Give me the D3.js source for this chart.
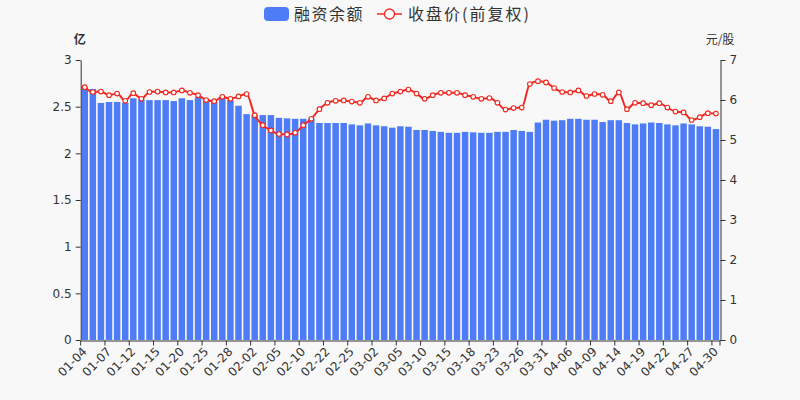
<!DOCTYPE html>
<html><head><meta charset="utf-8">
<script src="https://cdn.jsdelivr.net/npm/d3@7/dist/d3.min.js"></script>
<style>
html,body{margin:0;padding:0;background:#f8f8f8;}
svg{display:block;}
</style></head>
<body><svg id="c" width="800" height="400"></svg>
<script>
const dates = ["01-04","01-05","01-06","01-07","01-08","01-11","01-12","01-13","01-14","01-15","01-18","01-19","01-20","01-21","01-22","01-25","01-26","01-27","01-28","01-29",
"02-01","02-02","02-03","02-04","02-05","02-08","02-09","02-10","02-18","02-19","02-22","02-23","02-24","02-25","02-26",
"03-01","03-02","03-03","03-04","03-05","03-08","03-09","03-10","03-11","03-12","03-15","03-16","03-17","03-18","03-19","03-22","03-23","03-24","03-25","03-26","03-29","03-30","03-31",
"04-01","04-02","04-06","04-07","04-08","04-09","04-12","04-13","04-14","04-15","04-16","04-19","04-20","04-21","04-22","04-23","04-26","04-27","04-28","04-29","04-30"];
const marginBalance = [2.71,2.69,2.54,2.55,2.55,2.54,2.59,2.58,2.57,2.57,2.57,2.56,2.59,2.57,2.60,2.58,2.55,2.59,2.57,2.51,
2.42,2.41,2.41,2.41,2.38,2.375,2.37,2.37,2.37,2.325,2.325,2.325,2.325,2.31,2.30,2.32,2.30,2.29,2.275,2.29,
2.285,2.25,2.25,2.24,2.23,2.22,2.22,2.23,2.225,2.22,2.22,2.23,2.23,2.25,2.24,2.23,2.33,2.36,2.35,2.355,
2.37,2.37,2.36,2.36,2.335,2.355,2.355,2.325,2.31,2.32,2.33,2.325,2.31,2.30,2.32,2.31,2.29,2.285,2.26];
const closePrice = [6.32,6.20,6.21,6.12,6.16,5.98,6.17,6.03,6.20,6.21,6.19,6.19,6.24,6.18,6.12,6.00,5.97,6.08,6.03,6.09,
6.15,5.62,5.37,5.24,5.15,5.14,5.18,5.37,5.53,5.77,5.93,5.98,5.99,5.96,5.93,6.08,5.99,6.04,6.16,6.21,
6.26,6.16,6.03,6.12,6.18,6.18,6.18,6.12,6.08,6.03,6.05,5.93,5.76,5.80,5.81,6.40,6.47,6.44,6.30,6.20,
6.19,6.24,6.10,6.15,6.13,5.97,6.19,5.77,5.93,5.92,5.87,5.92,5.81,5.71,5.69,5.50,5.57,5.67,5.66];
const leftTicks = [0,0.5,1,1.5,2,2.5,3];
const rightTicks = [0,1,2,3,4,5,6,7];
const seriesNames = ["融资余额","收盘价(前复权)"];
const leftUnit = "亿", rightUnit = "元/股";

const BAR = "#4e7cf7", LINE = "#f02a22", TXT = "#333", AX = "#333";
const L = 80.7, R = 720, T = 60, B = 340;
const svg = d3.select("#c");
svg.append("rect").attr("width",800).attr("height",400).attr("fill","#f8f8f8");

const xCat = d3.scaleBand().domain(dates).range([L,R]).padding(0);
const xBar = d3.scaleBand().domain(dates).range([L,R]).paddingInner(0.2).paddingOuter(0.1);
const yL = d3.scaleLinear().domain([0,3]).range([B,T]);
const yR = d3.scaleLinear().domain([0,7]).range([B,T]);
const step = xCat.step();

// bars
svg.append("g").selectAll("rect").data(marginBalance).join("rect")
  .attr("x",(d,i)=>xBar(dates[i])).attr("width",xBar.bandwidth())
  .attr("y",d=>yL(d)).attr("height",d=>B-yL(d)).attr("fill",BAR);

// line
const line = d3.line().x((d,i)=>xCat(dates[i])+step/2).y(d=>yR(d)).curve(d3.curveMonotoneX);
svg.append("path").datum(closePrice).attr("d",line).attr("fill","none")
  .attr("stroke",LINE).attr("stroke-width",2);
svg.append("g").selectAll("circle").data(closePrice).join("circle")
  .attr("cx",(d,i)=>xCat(dates[i])+step/2).attr("cy",d=>yR(d)).attr("r",2.3)
  .attr("fill","#fff").attr("stroke",LINE).attr("stroke-width",1.1);

// x axis
const tickIdx = dates.map((d,i)=>i).filter(i=>i%3===0);
const xAxis = d3.axisBottom(xCat).tickValues(tickIdx.map(i=>dates[i])).tickSize(5).tickSizeOuter(0);
const gx = svg.append("g").attr("transform",`translate(0,${B+0.5})`).call(xAxis);
gx.select(".domain").attr("stroke",AX);
gx.selectAll(".tick line").attr("stroke",AX).attr("transform",`translate(${-step/2},0)`);
gx.selectAll(".tick text").attr("fill",TXT).style("font-family","DejaVu Sans").style("font-size","12px")
  .attr("text-anchor","end").attr("dy","0.35em").attr("y",0)
  .attr("transform","translate(0,9) rotate(-45)");
gx.append("line").attr("x1",R).attr("x2",R).attr("y1",0).attr("y2",5).attr("stroke",AX);

// left axis
const gl = svg.append("g").attr("transform",`translate(${L},0)`)
  .call(d3.axisLeft(yL).tickValues(leftTicks).tickSize(5).tickSizeOuter(0).tickPadding(4).tickFormat(d3.format("~g")));
gl.select(".domain").attr("stroke",AX);
gl.selectAll(".tick line").attr("stroke",AX);
gl.selectAll(".tick text").attr("fill",TXT).style("font-family","DejaVu Sans").style("font-size","12px");

// right axis
const gr = svg.append("g").attr("transform",`translate(${R+0.5},0)`)
  .call(d3.axisRight(yR).tickValues(rightTicks).tickSize(5).tickSizeOuter(0).tickPadding(4).tickFormat(d3.format("~g")));
gr.select(".domain").attr("stroke",AX);
gr.selectAll(".tick line").attr("stroke",AX);
gr.selectAll(".tick text").attr("fill",TXT).style("font-family","DejaVu Sans").style("font-size","12px");

// axis names
svg.append("text").attr("x",L-1).attr("y",44).attr("text-anchor","middle")
  .style("font-family","Noto Sans CJK SC").style("font-size","12px").style("font-weight","bold")
  .attr("fill",TXT).text(leftUnit);
svg.append("text").attr("x",R).attr("y",44).attr("text-anchor","middle")
  .style("font-family","Noto Sans CJK SC").style("font-size","12px")
  .attr("fill",TXT).text(rightUnit);

// legend
const lg = svg.append("g");
lg.append("rect").attr("x",264).attr("y",7).attr("width",25).attr("height",14).attr("rx",4).attr("fill",BAR);
lg.append("text").attr("x",294).attr("y",20).style("font-family","Noto Sans CJK SC").style("font-size","16px")
  .style("letter-spacing","1.5px").attr("fill",TXT).text(seriesNames[0]);
lg.append("line").attr("x1",377).attr("x2",402).attr("y1",14).attr("y2",14).attr("stroke",LINE).attr("stroke-width",1.5);
lg.append("circle").attr("cx",389.5).attr("cy",14).attr("r",5).attr("fill","#fff").attr("stroke",LINE).attr("stroke-width",1.3);
lg.append("text").attr("x",408).attr("y",20).style("font-family","Noto Sans CJK SC").style("font-size","16px")
  .style("letter-spacing","2px").attr("fill",TXT).text(seriesNames[1]);
</script></body></html>
